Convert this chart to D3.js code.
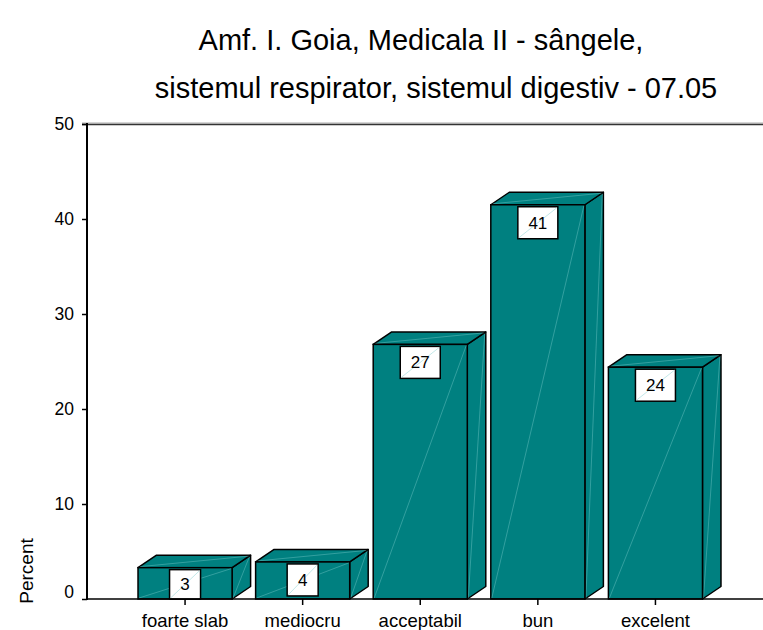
<!DOCTYPE html>
<html>
<head>
<meta charset="utf-8">
<script src="https://cdn.jsdelivr.net/npm/d3@7"></script>
<style>
  html, body { margin: 0; padding: 0; background: #fff; }
  svg { display: block; font-family: Arial, "Liberation Sans", sans-serif; }
</style>
</head>
<body>
<svg id="chart" width="763" height="630"></svg>
<script>
const categories = ["foarte slab", "mediocru", "acceptabil", "bun", "excelent"];
const values = [3.3, 3.9, 26.8, 41.5, 24.4];
const valueLabels = ["3", "4", "27", "41", "24"];
const yTicks = [0, 10, 20, 30, 40, 50];
const titleLines = ["Amf. I. Goia, Medicala II - sângele,", "sistemul respirator, sistemul digestiv - 07.05"];

const FONT = "Arial, 'Liberation Sans', sans-serif";
const svg = d3.select("#chart");
const teal = "#008080";
const depthX = 18.5, depthY = 12.5;

const y = d3.scaleLinear().domain([0, 50]).range([599, 124]);
const x = d3.scaleBand().domain(categories).range([114.5, 726]).paddingInner(0.2).paddingOuter(0.2);

// Title
svg.append("text").attr("x", 421).attr("y", 50).attr("text-anchor", "middle")
  .attr("font-size", 29).attr("fill", "#000").text(titleLines[0]);
svg.append("text").attr("x", 436).attr("y", 98).attr("text-anchor", "middle")
  .attr("font-size", 29).attr("fill", "#000").text(titleLines[1]);

// Frame top line
svg.append("line").attr("x1", 82).attr("x2", 763).attr("y1", 123).attr("y2", 123)
  .attr("stroke", "#aaa").attr("stroke-width", 1);
svg.append("line").attr("x1", 82).attr("x2", 763).attr("y1", 124.5).attr("y2", 124.5)
  .attr("stroke", "#333").attr("stroke-width", 1.3);

// Y axis
const yAxis = d3.axisLeft(y).tickValues(yTicks).tickSize(5).tickPadding(8);
const gy = svg.append("g").attr("transform", "translate(87,0)").call(yAxis);
gy.select(".domain").remove();
gy.selectAll(".tick line").attr("stroke", "#000").attr("stroke-width", 1.5);
gy.selectAll(".tick text").attr("font-size", 17.5).attr("fill", "#000").attr("font-family", FONT)
  .attr("dy", d => d === 0 ? "-0.1em" : "0.32em");

svg.append("line").attr("x1", 87).attr("x2", 87).attr("y1", 123).attr("y2", 600)
  .attr("stroke", "#000").attr("stroke-width", 2);

// Y label
svg.append("text").attr("transform", "translate(33,571) rotate(-90)")
  .attr("text-anchor", "middle").attr("font-size", 19).attr("fill", "#000").text("Percent");

// Bars
const bars = svg.append("g");
categories.forEach((c, i) => {
  const x0 = x(c), w = x.bandwidth(), x1 = x0 + w;
  const yt = y(values[i]), yb = y(0);
  const g = bars.append("g");
  // side face
  g.append("path")
    .attr("d", `M${x1},${yb} L${x1 + depthX},${yb - depthY} L${x1 + depthX},${yt - depthY} L${x1},${yt} Z`)
    .attr("fill", teal).attr("stroke", "#000").attr("stroke-width", 1.5).attr("stroke-linejoin", "round");
  g.append("line").attr("x1", x1 + 1).attr("y1", yb - 1).attr("x2", x1 + depthX - 1).attr("y2", yt - depthY + 1)
    .attr("stroke", "#8fd8d8").attr("stroke-width", 0.6).attr("opacity", 0.6);
  // top face
  g.append("path")
    .attr("d", `M${x0},${yt} L${x0 + depthX},${yt - depthY} L${x1 + depthX},${yt - depthY} L${x1},${yt} Z`)
    .attr("fill", teal).attr("stroke", "#000").attr("stroke-width", 1.5).attr("stroke-linejoin", "round");
  g.append("line").attr("x1", x0 + 2).attr("y1", yt - 1).attr("x2", x1 + depthX - 2).attr("y2", yt - depthY + 1)
    .attr("stroke", "#8fd8d8").attr("stroke-width", 0.6).attr("opacity", 0.6);
  // front face
  g.append("rect").attr("x", x0).attr("y", yt).attr("width", w).attr("height", yb - yt)
    .attr("fill", teal).attr("stroke", "#000").attr("stroke-width", 1.5);
  g.append("line").attr("x1", x0 + 1).attr("y1", yb - 1).attr("x2", x1 - 1).attr("y2", yt + 1)
    .attr("stroke", "#8fd8d8").attr("stroke-width", 0.6).attr("opacity", 0.6);

  // value label box
  const lbl = valueLabels[i];
  const bw = lbl.length > 1 ? 40 : 31;
  const bh = 32;
  const cx = x0 + w / 2;
  const by = yt + 2;
  const bhh = Math.min(bh, yb - by);
  g.append("rect").attr("x", cx - bw / 2).attr("y", by).attr("width", bw).attr("height", bhh)
    .attr("fill", "#fff").attr("stroke", "#000").attr("stroke-width", 1.5);
  g.append("line").attr("x1", cx - bw / 2 + 1).attr("y1", by + bhh - 1).attr("x2", cx + bw / 2 - 1).attr("y2", by + 1)
    .attr("stroke", "#a8dede").attr("stroke-width", 0.7);
  g.append("text").attr("x", cx).attr("y", by + bhh / 2 + 6).attr("text-anchor", "middle")
    .attr("font-size", 17).attr("fill", "#000").text(lbl);
});

// X axis
const xAxis = d3.axisBottom(x).tickSize(6).tickPadding(8);
const gx = svg.append("g").attr("transform", "translate(0,599)").call(xAxis);
gx.select(".domain").remove();
gx.selectAll(".tick line").attr("stroke", "#000").attr("stroke-width", 1.5);
gx.selectAll(".tick text").attr("font-size", 18.5).attr("fill", "#000").attr("font-family", FONT)
  .attr("dy", "0").attr("y", 28);
svg.append("line").attr("x1", 86).attr("x2", 763).attr("y1", 599).attr("y2", 599)
  .attr("stroke", "#000").attr("stroke-width", 1.5);
</script>
</body>
</html>
